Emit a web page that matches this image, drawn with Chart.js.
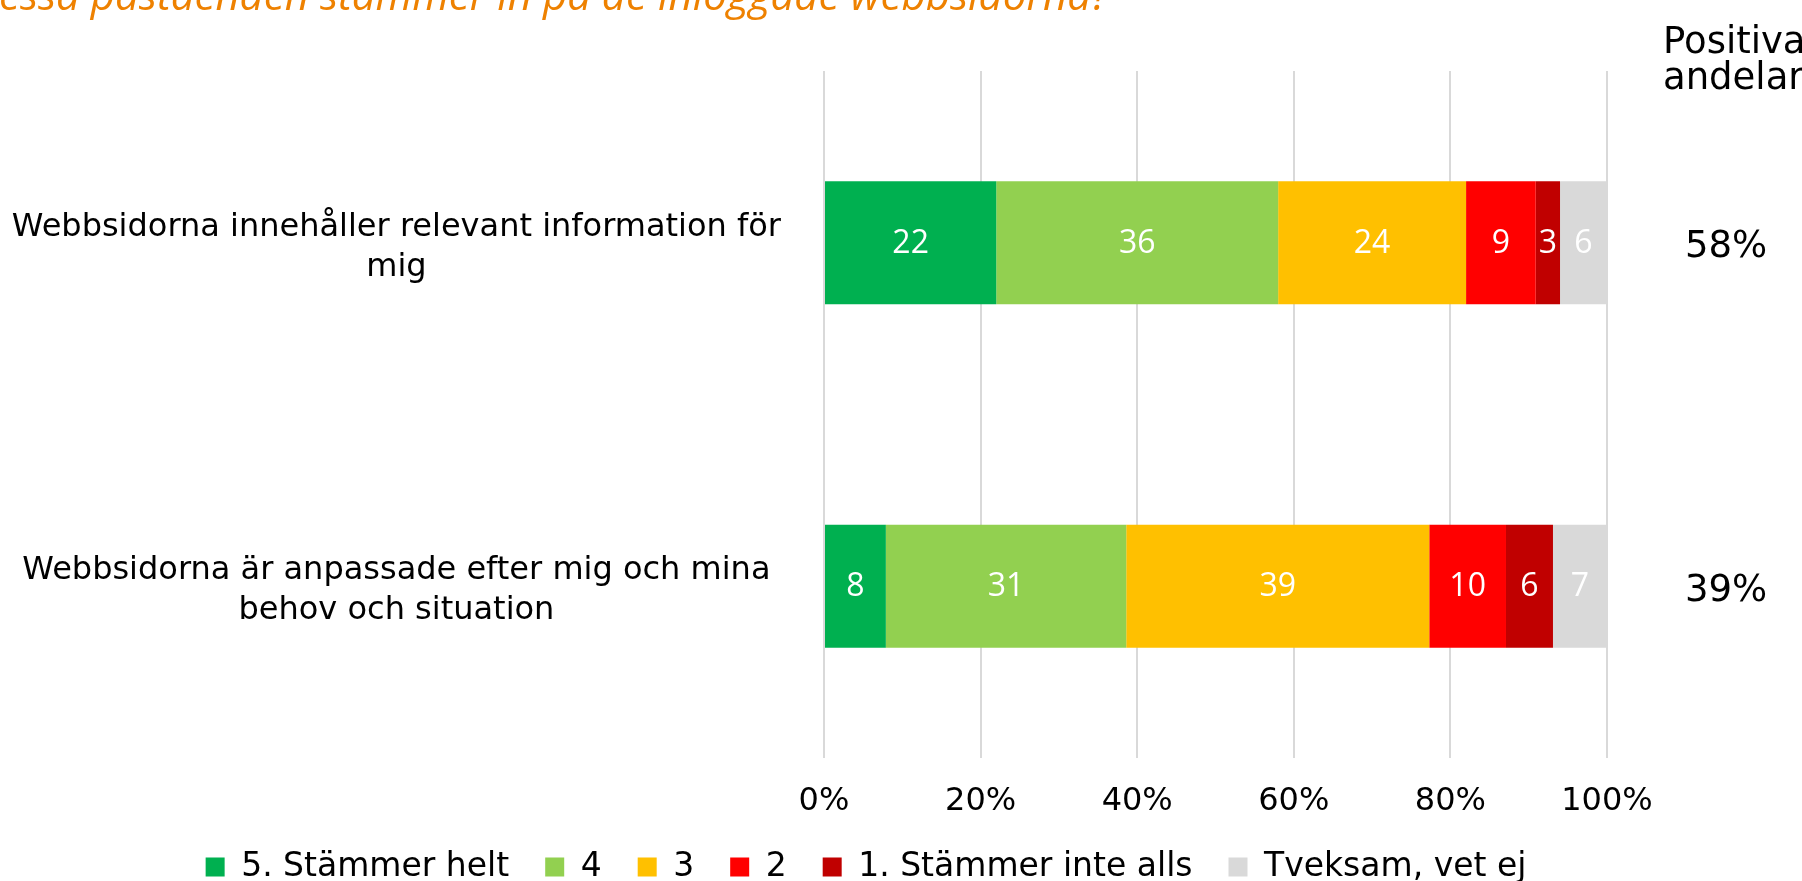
<!DOCTYPE html>
<html>
<head>
<meta charset="utf-8">
<script src="https://cdn.jsdelivr.net/npm/chart.js@4/dist/chart.umd.min.js"></script>
<style>
  body { margin: 0; background: #fff; }
</style>
</head>
<body>
<canvas id="grafica" width="1802" height="881"></canvas>
<script>
const rubrik = 'dessa påståenden stämmer in på de inloggade webbsidorna?';
const kategorier = [
  ['Webbsidorna innehåller relevant information för', 'mig'],
  ['Webbsidorna är anpassade efter mig och mina', 'behov och situation']
];
const serieNamn = ['5. Stämmer helt', '4', '3', '2', '1. Stämmer inte alls', 'Tveksam, vet ej'];
const serieFarger = ['#00B050', '#92D050', '#FFC000', '#FF0000', '#C00000', '#D9D9D9'];
const stammerHelt = [22.0, 7.9];
const fyra = [36.0, 30.7];
const tre = [24.0, 38.7];
const tva = [8.9, 9.8];
const stammerInteAlls = [3.1, 6.0];
const tveksam = [6.0, 6.9];
const positivaAndelar = [58, 39];
const xTicks = [0, 20, 40, 60, 80, 100];

const serier = [stammerHelt, fyra, tre, tva, stammerInteAlls, tveksam];

// texter: rubrik, siffror i staplarna och positiva andelar
const texter = {
  id: 'texter',
  afterLayout(chart) {
    // förklaringen ska centreras under diagrammet, inte under hela bilden
    chart.legend.left = 125;
  },
  afterDatasetsDraw(chart) {
    const ctx = chart.ctx;
    ctx.save();
    ctx.font = '32px "Open Sans"';
    ctx.fillStyle = '#fff';
    ctx.textAlign = 'center';
    ctx.textBaseline = 'middle';
    chart.data.datasets.forEach((ds, i) => {
      chart.getDatasetMeta(i).data.forEach((bar, j) => {
        ctx.fillText(Math.round(ds.data[j]), (bar.x + bar.base) / 2, bar.y + 1);
      });
    });

    const y = chart.scales.y;
    ctx.fillStyle = '#000';
    ctx.font = '37px "DejaVu Sans"';
    positivaAndelar.forEach((v, j) => ctx.fillText(v + '%', 1726, y.getPixelForValue(j) + 5));
    ctx.textAlign = 'left';
    ctx.fillText('Positiva', 1663, 43);
    ctx.fillText('andelar', 1663, 79);

    ctx.fillStyle = '#EE8100';
    ctx.font = 'italic 42px "Open Sans"';
    ctx.textAlign = 'right';
    ctx.textBaseline = 'alphabetic';
    ctx.fillText(rubrik, 1109, 10);
    ctx.restore();
  }
};

new Chart(document.getElementById('grafica'), {
  type: 'bar',
  data: {
    labels: kategorier,
    datasets: serier.map((data, i) => ({
      label: serieNamn[i],
      data,
      backgroundColor: serieFarger[i],
      borderWidth: 0,
      barPercentage: 0.358,
      categoryPercentage: 1
    }))
  },
  options: {
    indexAxis: 'y',
    responsive: false,
    animation: false,
    events: [],
    layout: { padding: { left: 0, right: 195, top: 71, bottom: -12.5 } },
    plugins: {
      tooltip: { enabled: false },
      legend: {
        position: 'bottom',
        labels: {
          color: '#000',
          font: { family: 'DejaVu Sans', size: 33 },
          boxWidth: 19,
          boxHeight: 19,
          padding: 36
        }
      }
    },
    scales: {
      x: {
        stacked: true,
        min: 0,
        max: 100,
        afterBuildTicks: s => { s.ticks = xTicks.map(v => ({ value: v })); },
        afterFit: s => { s.height = 56.5; },
        ticks: {
          color: '#000',
          font: { family: 'DejaVu Sans', size: 32 },
          padding: 24,
          callback: v => v + '%'
        },
        grid: { color: '#D9D9D9', lineWidth: 2, drawTicks: false },
        border: { display: false }
      },
      y: {
        stacked: true,
        afterFit: s => { s.width = 824; },
        ticks: {
          color: '#000',
          font: { family: 'DejaVu Sans', size: 32, lineHeight: 1.25 },
          crossAlign: 'center',
          padding: 0,
          labelOffset: 4.5
        },
        grid: { display: false, drawTicks: true, tickLength: 43 },
        border: { display: false }
      }
    }
  },
  plugins: [texter]
});
</script>
</body>
</html>
